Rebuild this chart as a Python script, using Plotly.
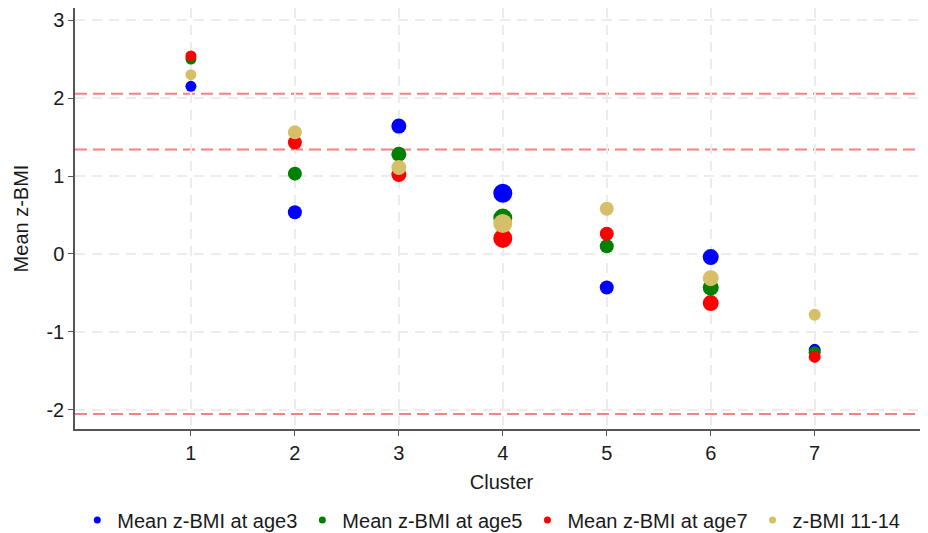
import plotly.graph_objects as go

clusters = [1, 2, 3, 4, 5, 6, 7]
age3 = [2.15, 0.535, 1.64, 0.78, -0.43, -0.04, -1.23]
age5 = [2.50, 1.03, 1.28, 0.46, 0.10, -0.43, -1.26]
age7 = [2.54, 1.43, 1.02, 0.20, 0.26, -0.63, -1.32]
bmi1114 = [2.30, 1.56, 1.11, 0.39, 0.58, -0.31, -0.78]
cluster_size = [11, 14, 15, 19, 14, 16, 12]
y_ticks = [-2, -1, 0, 1, 2, 3]
y_ticktext = ["-2", "-1", "0", "1", "2", "3"]
ref_lines = [2.054, 1.341, -2.054]

series = [
    ("Mean z-BMI at age3", age3, "#0000ff"),
    ("Mean z-BMI at age5", age5, "#008000"),
    ("Mean z-BMI at age7", age7, "#ff0000"),
    ("z-BMI 11-14", bmi1114, "#d6bf67"),
]

fig = go.Figure()
for name, vals, col in series:
    fig.add_trace(go.Scatter(x=clusters, y=vals, mode="markers", name=name,
                             marker=dict(color=col, size=cluster_size, opacity=1, line=dict(width=0)),
                             showlegend=False))
for name, vals, col in series:
    fig.add_trace(go.Scatter(x=[None], y=[None], mode="markers", name=name,
                             marker=dict(color=col, size=7, opacity=1), showlegend=True))

for v in ref_lines:
    fig.add_hline(y=v, line=dict(color="rgba(235,90,90,0.75)", width=2, dash="12px,6px"), layer="below")

font_family = "Liberation Sans, Arial, sans-serif"
fig.update_layout(
    width=920, height=525,
    margin=dict(l=67, r=0, t=0, b=104),
    plot_bgcolor="white", paper_bgcolor="white",
    font=dict(family=font_family, size=20, color="#1a1a1a"),
    xaxis=dict(range=[-0.115, 8.09], tickvals=clusters, ticktext=[str(c) for c in clusters],
               showline=True, linecolor="#555555", linewidth=1.5, ticks="outside", ticklen=5,
               tickcolor="#555555", showgrid=True, gridcolor="#ececec", griddash="10px,7px",
               gridwidth=1.5, zeroline=False, mirror=False, automargin=False,
               title=dict(text="Cluster", standoff=12, font=dict(size=20))),
    yaxis=dict(range=[-2.245, 3.155], tickvals=y_ticks, ticktext=y_ticktext,
               showline=True, linecolor="#555555", linewidth=1.5, ticks="outside", ticklen=5,
               tickcolor="#555555", showgrid=True, gridcolor="#ececec", griddash="10px,7px",
               gridwidth=1.5, zeroline=False, automargin=False,
               title=dict(text="Mean z-BMI", standoff=12, font=dict(size=20))),
    legend=dict(orientation="h", x=0.488, xanchor="center",
                yref="container", y=0.025, yanchor="middle",
                font=dict(size=20), itemwidth=30, tracegroupgap=0),
)

fig.write_html("out.html")
